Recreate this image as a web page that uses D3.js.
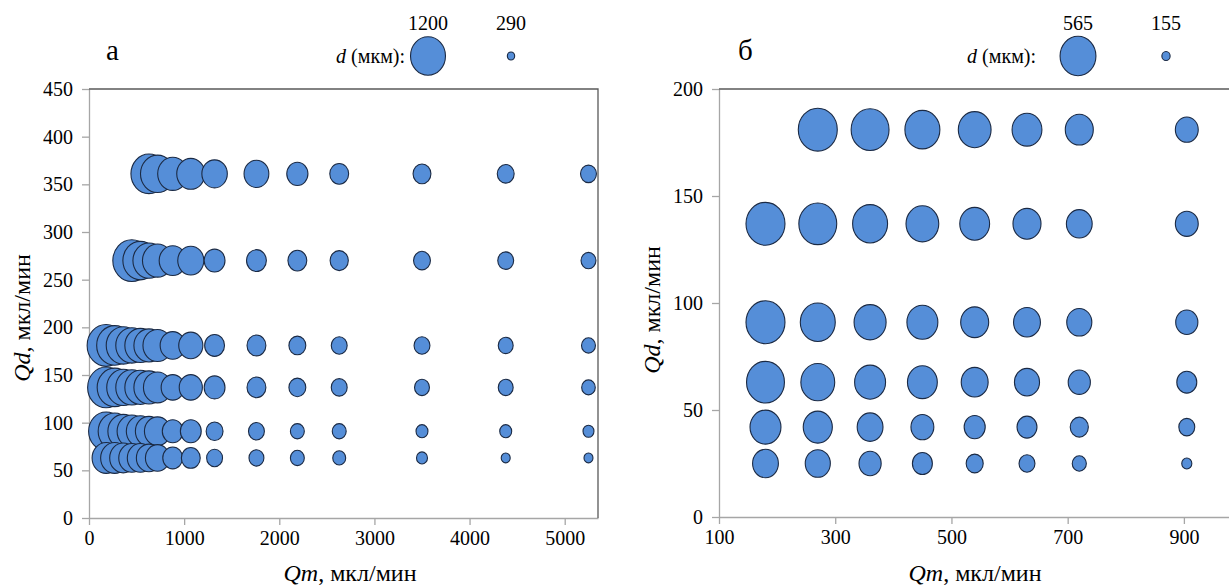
<!DOCTYPE html>
<html>
<head>
<meta charset="utf-8">
<script src="https://cdn.jsdelivr.net/npm/d3@7"></script>
<style>
  body { margin: 0; background: #fff; }
  svg text { font-family: "Liberation Serif", "Times New Roman", serif; fill: #000; }
  .axis path, .axis line { stroke: #a6a6a6; stroke-width: 1.3; }
</style>
</head>
<body>
<svg id="chart" width="1229" height="587"></svg>
<script>
// panel a: Qm columns, Qd rows, d (мкм) per bubble
const qmA = [180, 270, 360, 450, 540, 630, 720, 880, 1070, 1320, 1760, 2190, 2630, 3500, 4380, 5250];
const qdA = [361, 270, 181, 137, 91, 63];
const dA_361 = [null, null, null, null, null, 1140, 1080, 960, 900, 820, 800, 690, 620, 590, 560, 530];
const dA_270 = [null, null, null, 1200, 1110, 1020, 960, 870, 840, 680, 650, 620, 600, 560, 530, 500];
const dA_181 = [1200, 1140, 1080, 1020, 990, 960, 930, 810, 780, 650, 620, 560, 530, 530, 500, 470];
const dA_137 = [1170, 1110, 1050, 1020, 990, 960, 900, 750, 750, 680, 620, 560, 530, 500, 500, 460];
const dA_91  = [1110, 1050, 980, 940, 900, 870, 840, 680, 680, 560, 530, 470, 470, 410, 410, 380];
const dA_63  = [900, 900, 870, 840, 840, 810, 780, 650, 620, 530, 500, 470, 440, 380, 320, 320];
const xTicksA = [0, 1000, 2000, 3000, 4000, 5000];
const yTicksA = [0, 50, 100, 150, 200, 250, 300, 350, 400, 450];
const legendA = [1200, 290];

// panel б
const qmB = [180, 270, 360, 450, 540, 630, 720, 905];
const qdB = [181, 137, 91, 63, 42, 25];
const dB_181 = [null, 565, 550, 510, 480, 440, 415, 345];
const dB_137 = [565, 550, 510, 480, 440, 415, 385, 345];
const dB_91  = [565, 510, 470, 455, 415, 400, 375, 335];
const dB_63  = [550, 495, 455, 440, 400, 375, 335, 305];
const dB_42  = [455, 430, 385, 345, 320, 305, 280, 250];
const dB_25  = [385, 375, 335, 305, 265, 250, 225, 170];
const xTicksB = [100, 300, 500, 700, 900];
const yTicksB = [0, 50, 100, 150, 200];
const legendB = [565, 155];

const fillCol = "#558ed8", strokeCol = "#1b2a44";
const aspect = 1.1; // bubbles in the picture are a bit taller than wide
const FONT = "Liberation Serif";

const svg = d3.select("#chart");

function toPoints(qm, qd, rows) {
  let pts = [];
  rows.forEach((row, i) => {
    row.forEach((d, j) => {
      if (d != null) pts.push({qm: qm[j], qd: qd[i], d: d});
    });
  });
  // big ones behind
  pts.sort((a, b) => b.d - a.d);
  return pts;
}

function drawPanel(cfg) {
  const g = svg.append("g");
  const x = d3.scaleLinear().domain(cfg.xDomain).range([cfg.left, cfg.right]);
  const y = d3.scaleLinear().domain(cfg.yDomain).range([cfg.bottom, cfg.top]);
  const r = d3.scaleLinear().domain(cfg.dDomain).range(cfg.rRange);

  g.append("g")
    .attr("class", "axis")
    .attr("transform", `translate(0, ${cfg.bottom})`)
    .call(d3.axisBottom(x).tickValues(cfg.xTicks).tickFormat(d3.format("d"))
      .tickSize(7).tickSizeOuter(0).tickPadding(6))
    .attr("font-family", FONT).attr("font-size", 20);

  g.append("g")
    .attr("class", "axis")
    .attr("transform", `translate(${cfg.left}, 0)`)
    .call(d3.axisLeft(y).tickValues(cfg.yTicks).tickFormat(d3.format("d"))
      .tickSize(7).tickSizeOuter(0).tickPadding(9))
    .attr("font-family", FONT).attr("font-size", 20);

  // top + right frame
  g.append("path")
    .attr("d", `M${cfg.left},${cfg.top}H${cfg.right}V${cfg.bottom}`)
    .attr("fill", "none")
    .attr("stroke", "#595959")
    .attr("stroke-width", 1.3);

  g.append("g")
    .selectAll("ellipse")
    .data(cfg.points)
    .join("ellipse")
    .attr("cx", d => x(d.qm))
    .attr("cy", d => y(d.qd))
    .attr("rx", d => r(d.d))
    .attr("ry", d => r(d.d) * aspect)
    .attr("fill", fillCol)
    .attr("stroke", strokeCol)
    .attr("stroke-width", 1.1);

  // x title
  const xt = g.append("text")
    .attr("x", cfg.xTitleX)
    .attr("y", 581)
    .attr("text-anchor", "middle")
    .attr("font-family", FONT)
    .attr("font-size", 24);
  xt.append("tspan").attr("font-style", "italic").text("Qm");
  xt.append("tspan").text(", мкл/мин");

  // y title
  const yt = g.append("text")
    .attr("transform", `translate(${cfg.yTitleX}, ${cfg.yTitleY}) rotate(-90)`)
    .attr("text-anchor", "middle")
    .attr("font-family", FONT)
    .attr("font-size", 24);
  yt.append("tspan").attr("font-style", "italic").text("Qd");
  yt.append("tspan").text(", мкл/мин");

  // panel letter
  g.append("text")
    .attr("x", cfg.letterX)
    .attr("y", 60)
    .attr("font-family", FONT)
    .attr("font-size", 29)
    .text(cfg.letter);

  // legend
  const lt = g.append("text")
    .attr("x", cfg.legendX)
    .attr("y", 63)
    .attr("text-anchor", "end")
    .attr("font-family", FONT)
    .attr("font-size", 20);
  lt.append("tspan").attr("font-style", "italic").text("d");
  lt.append("tspan").text(" (мкм):");

  const lg = g.append("g").selectAll("g")
    .data(cfg.legend)
    .join("g")
    .attr("transform", (d, i) => `translate(${cfg.legendPos[i]}, 56)`);
  lg.append("ellipse")
    .attr("rx", d => r(d) * 0.92)
    .attr("ry", d => r(d) * 0.92 * aspect)
    .attr("fill", fillCol)
    .attr("stroke", strokeCol)
    .attr("stroke-width", 1.1);
  lg.append("text")
    .attr("y", -26)
    .attr("text-anchor", "middle")
    .attr("font-family", FONT)
    .attr("font-size", 20)
    .text(d => d);
}

drawPanel({
  left: 89, right: 598, top: 89, bottom: 518,
  xDomain: [0, 5350], yDomain: [0, 450],
  dDomain: [290, 1200], rRange: [4, 19],
  xTicks: xTicksA, yTicks: yTicksA,
  points: toPoints(qmA, qdA, [dA_361, dA_270, dA_181, dA_137, dA_91, dA_63]),
  xTitleX: 350, yTitleX: 30, yTitleY: 318, letter: "а", letterX: 106,
  legendX: 405, legendPos: [428, 511], legend: legendA
});

drawPanel({
  left: 719, right: 1242, top: 89, bottom: 517,
  xDomain: [100, 1000], yDomain: [0, 200],
  dDomain: [155, 565], rRange: [4.5, 19.5],
  xTicks: xTicksB, yTicks: yTicksB,
  points: toPoints(qmB, qdB, [dB_181, dB_137, dB_91, dB_63, dB_42, dB_25]),
  xTitleX: 975, yTitleX: 660, yTitleY: 310, letter: "б", letterX: 738,
  legendX: 1036, legendPos: [1078, 1166], legend: legendB
});
</script>
</body>
</html>
